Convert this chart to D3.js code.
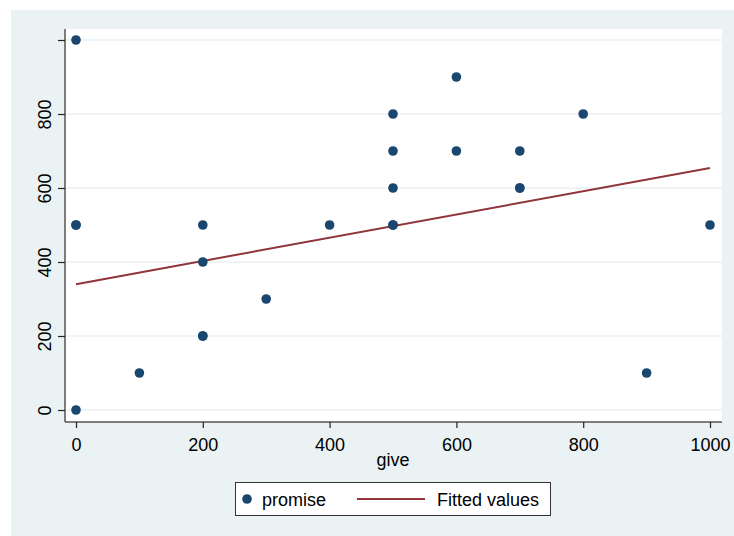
<!DOCTYPE html>
<html>
<head>
<meta charset="utf-8">
<script src="https://cdn.jsdelivr.net/npm/d3@7/dist/d3.min.js"></script>
<style>
  html, body { margin: 0; padding: 0; background: #ffffff; }
  svg text { font-family: "Liberation Sans", Arial, sans-serif; fill: #000; }
</style>
</head>
<body>
<svg id="chart" width="734" height="536"></svg>
<script>
// ---- data ----
const give    = [0, 0, 0, 0, 100, 200, 200, 200, 200, 300, 400, 500, 500, 500, 500, 500, 600, 600, 700, 700, 700, 800, 900, 1000];
const promise = [1000, 500, 500, 0, 100, 500, 400, 200, 200, 300, 500, 800, 700, 600, 500, 500, 900, 700, 700, 600, 600, 800, 100, 500];
const fitGive   = [0, 1000];
const fitValues = [340, 654];
const xTicks = [0, 200, 400, 600, 800, 1000];
const yTicks = [0, 200, 400, 600, 800, 1000];
const yTickLabels = ["0", "200", "400", "600", "800", ""];
const xTitle = "give";
const legendLabels = ["promise", "Fitted values"];

const markerColor = "#1a476f";
const lineColor = "#90353b";
const bgColor = "#eaf2f3";
const axisColor = "#555555";

const svg = d3.select("#chart");

// outer graph region
svg.append("rect").attr("x", 11).attr("y", 10).attr("width", 723).attr("height", 526).attr("fill", bgColor);
// plot region
const plot = { left: 65, right: 722, top: 29, bottom: 422 };
svg.append("rect").attr("x", plot.left).attr("y", plot.top)
  .attr("width", plot.right - plot.left).attr("height", plot.bottom - plot.top).attr("fill", "#ffffff");

const x = d3.scaleLinear().domain([0, 1000]).range([76, 710]);
const y = d3.scaleLinear().domain([0, 1000]).range([410, 40]);

// gridlines
svg.append("g").selectAll("line").data(yTicks).join("line")
  .attr("x1", plot.left).attr("x2", plot.right)
  .attr("y1", d => y(d)).attr("y2", d => y(d))
  .attr("stroke", bgColor).attr("stroke-width", 1.5);

// y axis
const yAxis = svg.append("g").attr("transform", `translate(${plot.left},0)`)
  .call(d3.axisLeft(y).tickValues(yTicks).tickSize(7).tickFormat((d, i) => yTickLabels[i]));
yAxis.select(".domain").attr("d", `M0,${plot.top}V${plot.bottom}`).attr("stroke", axisColor).attr("stroke-width", 1.5);
yAxis.selectAll(".tick line").attr("stroke", "#222").attr("stroke-width", 1.2);
yAxis.selectAll(".tick text")
  .attr("font-size", 18).attr("text-anchor", "middle").attr("dy", null).attr("x", null)
  .attr("transform", `translate(${50.5 - plot.left},0) rotate(-90)`);

// x axis
const xAxis = svg.append("g").attr("transform", `translate(0,${plot.bottom})`)
  .call(d3.axisBottom(x).tickValues(xTicks).tickSize(6).tickFormat(d3.format("d")));
xAxis.select(".domain").attr("d", `M${plot.left},0H${plot.right}`).attr("stroke", axisColor).attr("stroke-width", 1.5);
xAxis.selectAll(".tick line").attr("stroke", "#222").attr("stroke-width", 1.2);
xAxis.selectAll(".tick text").attr("font-size", 18).attr("y", 29).attr("dy", null);

// x title
svg.append("text").attr("x", 393).attr("y", 466).attr("text-anchor", "middle")
  .attr("font-size", 18).text(xTitle);

// fitted line
const line = d3.line().x(d => x(d[0])).y(d => y(d[1]));
svg.append("path").datum(fitGive.map((g, i) => [g, fitValues[i]]))
  .attr("d", line).attr("fill", "none").attr("stroke", lineColor).attr("stroke-width", 2);

// points
svg.append("g").selectAll("circle").data(give.map((g, i) => [g, promise[i]])).join("circle")
  .attr("cx", d => x(d[0])).attr("cy", d => y(d[1])).attr("r", 4.8).attr("fill", markerColor);

// legend
const lg = svg.append("g");
lg.append("rect").attr("x", 235.5).attr("y", 482.5).attr("width", 315).attr("height", 33)
  .attr("fill", "#ffffff").attr("stroke", "#333").attr("stroke-width", 1);
lg.append("circle").attr("cx", 247).attr("cy", 499).attr("r", 4.8).attr("fill", markerColor);
lg.append("text").attr("x", 262).attr("y", 505.5).attr("font-size", 18).text(legendLabels[0]);
lg.append("line").attr("x1", 357).attr("x2", 425).attr("y1", 499).attr("y2", 499)
  .attr("stroke", lineColor).attr("stroke-width", 2);
lg.append("text").attr("x", 437).attr("y", 505.5).attr("font-size", 18).text(legendLabels[1]);
</script>
</body>
</html>
